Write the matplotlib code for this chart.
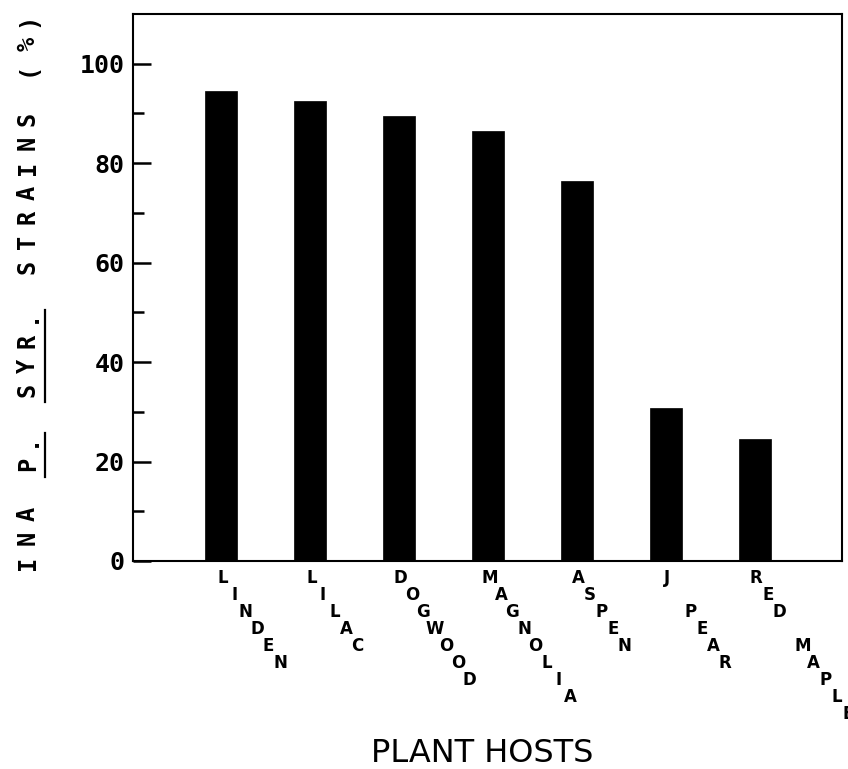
import numpy as np
import matplotlib
matplotlib.use('Agg')
import matplotlib.pyplot as plt
from matplotlib.lines import Line2D

# data
hosts = ['LINDEN', 'LILAC', 'DOGWOOD', 'MAGNOLIA', 'ASPEN', 'J PEAR', 'RED MAPLE']
ina_pct = [94.5, 92.5, 89.5, 86.5, 76.5, 30.7, 24.6]
y_ticks = [0, 20, 40, 60, 80, 100]
y_label = 'INA P. SYR. STRAINS (%)'
x_label = 'PLANT HOSTS'

W, H = 848, 769
fig = plt.figure(figsize=(W / 100, H / 100), dpi=100)
ax = fig.add_axes([133 / W, 1 - 561 / H, (842 - 133) / W, (561 - 14) / H])

x = np.arange(len(hosts))
ax.bar(x, ina_pct, width=0.36, color='black', edgecolor='black', linewidth=0.5)

ax.set_xlim(-0.99, 6.98)
ax.set_ylim(0, 110)
ax.set_yticks(y_ticks)
ax.set_yticks(np.arange(10, 110, 20), minor=True)
ax.set_xticks([])
ax.tick_params(axis='y', which='major', direction='in', length=13, width=1.8, pad=6)
ax.tick_params(axis='y', which='minor', direction='in', length=8, width=1.8)
for lab in ax.get_yticklabels():
    lab.set_fontfamily('DejaVu Sans Mono')
    lab.set_fontweight('bold')
    lab.set_fontsize(18)
for sp in ax.spines.values():
    sp.set_linewidth(1.5)

# staircase tick labels, one letter at a time
for i, name in enumerate(hosts):
    for k, ch in enumerate(name):
        if ch == ' ':
            continue
        ax.annotate(ch, xy=(x[i], 0), xycoords=('data', 'axes fraction'),
                    xytext=((1.5 + k * 11.5) * 0.72, -(17 + k * 17.0) * 0.72),
                    textcoords='offset points', ha='center', va='center',
                    fontsize=12, fontweight='bold',
                    family=['Liberation Sans Narrow', 'DejaVu Sans'],
                    annotation_clip=False)

# y label, spaced out letter by letter
pitch = 24.7
y0 = 563
for k, ch in enumerate(y_label):
    if ch == ' ':
        continue
    fig.text(28 / W, 1 - (y0 - k * pitch) / H, ch, rotation=90, ha='center', va='center',
             fontsize=17, fontweight='bold', family='DejaVu Sans Mono')

# underlines for the italic names
for a, b in [(4, 5), (7, 10)]:
    ya = 1 - (y0 - a * pitch + pitch / 2) / H
    yb = 1 - (y0 - b * pitch - pitch / 2 + 6) / H
    fig.add_artist(Line2D([45 / W, 45 / W], [ya, yb], transform=fig.transFigure,
                          color='black', linewidth=1.6))

fig.text(482 / W, 1 - 754 / H, x_label, ha='center', va='center', fontsize=23,
         family='DejaVu Sans')

fig.savefig('out.png', dpi=100, facecolor='white')
